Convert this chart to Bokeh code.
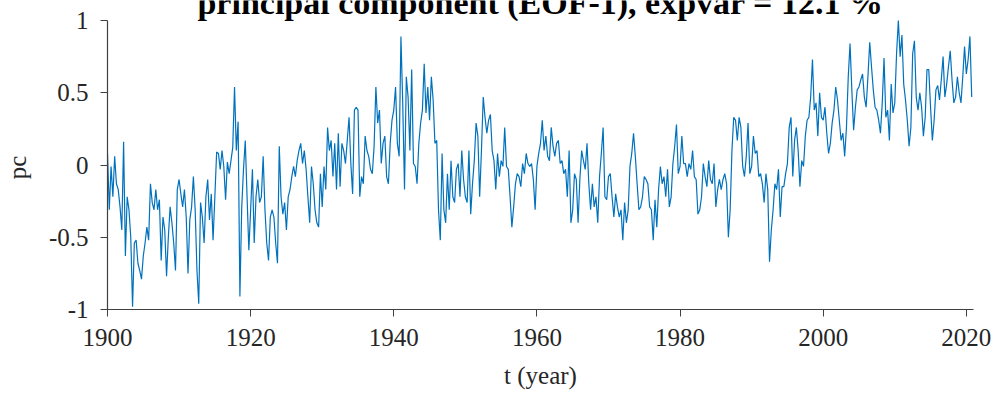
import numpy as np
from bokeh.plotting import figure
from bokeh.models import Label, FixedTicker, CustomJSTickFormatter, Range1d, ColumnDataSource
from bokeh.embed import file_html
from bokeh.resources import INLINE

# Leading principal component, quarterly samples
pc = [
    # 1900-1914
    0.08, -0.31, -0.01, -0.22,
    0.06, -0.13, -0.17, -0.29,
    -0.45, 0.16, -0.63, -0.22,
    -0.31, -0.50, -0.98, -0.54,
    -0.52, -0.68, -0.73, -0.79,
    -0.63, -0.54, -0.43, -0.52,
    -0.13, -0.26, -0.31, -0.17,
    -0.31, -0.24, -0.66, -0.36,
    -0.45, -0.77, -0.50, -0.29,
    -0.40, -0.54, -0.73, -0.17,
    -0.10, -0.20, -0.29, -0.17,
    -0.36, -0.75, -0.38, -0.29,
    -0.08, -0.31, -0.73, -0.96,
    -0.26, -0.36, -0.54, -0.22,
    -0.10, -0.38, -0.20, -0.52,
    # 1915-1929
    -0.22, 0.09, 0.08, -0.03,
    0.10, -0.01, -0.24, 0.02,
    -0.06, 0.03, 0.12, 0.54,
    0.10, 0.30, -0.91, -0.30,
    -0.03, 0.17, -0.22, -0.59,
    -0.31, -0.03, -0.54, -0.22,
    -0.10, -0.26, -0.22, 0.06,
    -0.31, -0.54, -0.66, -0.36,
    -0.31, -0.36, -0.54, -0.68,
    0.13, -0.22, -0.34, -0.26,
    -0.45, -0.22, -0.17, -0.08,
    -0.01, -0.08, 0.03, 0.10,
    0.15, 0.01, 0.10, -0.03,
    -0.22, -0.40, -0.01, -0.13,
    -0.31, -0.40, -0.43, -0.06,
    # 1930-1944
    -0.29, -0.01, -0.17, 0.26,
    0.10, 0.17, -0.08, 0.15,
    -0.17, 0.22, -0.15, 0.15,
    0.10, 0.01, 0.17, 0.33,
    0.01, -0.20, 0.38, 0.40,
    0.38, -0.22, -0.08, -0.13,
    0.20, 0.10, 0.06, -0.03,
    -0.06, 0.13, 0.54, 0.29,
    0.38, 0.01, 0.15, 0.20,
    -0.08, -0.13, 0.15, 0.31,
    0.38, 0.54, 0.15, 0.06,
    0.89, 0.43, -0.17, 0.61,
    0.47, 0.10, 0.66, 0.01,
    -0.01, -0.13, 0.15, 0.29,
    0.38, 0.70, 0.36, 0.54,
    # 1945-1959
    0.31, 0.61, 0.45, 0.15,
    0.17, -0.31, -0.52, 0.08,
    -0.31, -0.40, -0.06, -0.31,
    0.03, -0.22, -0.26, -0.03,
    0.01, -0.22, 0.10, -0.10,
    -0.22, -0.26, 0.10, -0.34,
    -0.13, 0.03, 0.29, 0.20,
    -0.22, 0.10, 0.47, 0.33,
    0.22, 0.31, 0.35, 0.10,
    0.03, -0.17, 0.08, -0.08,
    0.03, -0.01, 0.26, -0.01,
    -0.03, -0.22, -0.43, -0.29,
    -0.13, -0.06, -0.08, -0.15,
    0.01, -0.06, 0.08, 0.01,
    -0.01, 0.01, -0.10, -0.31,
    # 1960-1974
    -0.01, 0.08, 0.15, 0.31,
    0.10, 0.20, 0.06, 0.03,
    0.26, 0.13, 0.06, 0.15,
    0.17, 0.01, 0.03, -0.06,
    -0.03, -0.22, 0.10, -0.40,
    -0.31, -0.06, -0.10, -0.40,
    -0.10, 0.10, 0.03, -0.03,
    0.15, -0.13, -0.31, -0.13,
    -0.29, -0.22, -0.40, -0.08,
    0.08, 0.26, -0.22, -0.24,
    -0.08, -0.06, -0.22, -0.36,
    -0.20, -0.29, -0.36, -0.31,
    -0.52, -0.26, -0.40, -0.31,
    -0.01, 0.08, 0.22, 0.06,
    -0.13, -0.31, -0.29, -0.22,
    # 1975-1990
    -0.08, -0.10, -0.13, -0.29,
    -0.31, -0.52, -0.24, -0.43,
    -0.17, -0.01, -0.13, -0.08,
    -0.22, -0.03, -0.29, -0.22,
    0.01, 0.13, 0.28, -0.06,
    -0.01, 0.20, 0.01, 0.01,
    -0.08, 0.01, -0.03, 0.10,
    -0.08, -0.10, -0.34, -0.31,
    -0.22, 0.01, -0.08, -0.15,
    0.03, -0.10, -0.13, 0.01,
    -0.29, -0.17, -0.10, -0.17,
    -0.10, -0.06, -0.13, -0.50,
    -0.31, 0.10, 0.33, 0.31,
    0.17, 0.33, 0.26, -0.01,
    -0.08, 0.06, 0.29, -0.06,
    -0.01, 0.20, 0.08, 0.10,
    # 1991-2005
    -0.08, -0.06, -0.13, -0.26,
    -0.06, -0.17, -0.67, -0.45,
    -0.31, -0.13, -0.17, -0.03,
    -0.36, -0.15, -0.15, -0.06,
    0.01, 0.26, 0.33, -0.08,
    0.17, 0.26, 0.10, -0.15,
    0.03, -0.01, 0.20, 0.31,
    0.33, 0.47, 0.73, 0.38,
    0.43, 0.20, 0.50, 0.33,
    0.31, 0.40, 0.22, 0.08,
    0.15, 0.29, 0.38, 0.54,
    0.45, 0.31, 0.17, 0.22,
    0.06, 0.26, 0.61, 0.84,
    0.52, 0.24, 0.40, 0.52,
    0.54, 0.59, 0.63, 0.47,
    # 2006-2020
    0.40, 0.61, 0.85, 0.68,
    0.52, 0.40, 0.38, 0.31,
    0.22, 0.43, 0.74, 0.33,
    0.38, 0.17, 0.56, 0.36,
    0.43, 0.77, 1.00, 0.75,
    0.90, 0.56, 0.45, 0.31,
    0.13, 0.26, 0.77, 0.86,
    0.47, 0.38, 0.50, 0.40,
    0.20, 0.33, 0.66, 0.66,
    0.40, 0.17, 0.31, 0.52,
    0.55, 0.45, 0.59, 0.75,
    0.47, 0.56, 0.68, 0.79,
    0.59, 0.43, 0.47, 0.61,
    0.50, 0.43, 0.61, 0.82,
    0.63, 0.73, 0.89, 0.47,
]
start_year = 1900
samples_per_year = 4
t = [start_year + i / samples_per_year for i in range(len(pc))]

x_ticks = [1900, 1920, 1940, 1960, 1980, 2000, 2020]
y_ticks = [-1, -0.5, 0, 0.5, 1]
title_text = "principal component (EOF-1), expvar = 12.1 %"
xlabel_text = "t (year)"
ylabel_text = "pc"

FONT = "Liberation Serif"
TXT = "#262626"

# the frame reaches the top edge so the (cut) title can sit inside it;
# the y axis itself is bounded to [-1, 1]
PX_PER_UNIT = 289 / 2.0
y_top = 1 + 20 / PX_PER_UNIT

p = figure(width=995, height=396, output_backend="svg", toolbar_location=None,
           x_range=Range1d(1900, 2021), y_range=Range1d(-1, y_top),
           min_border_left=103, min_border_right=22,
           min_border_top=0, min_border_bottom=87)
p.outline_line_color = None
p.xgrid.visible = False
p.ygrid.visible = False
p.background_fill_color = "white"
p.border_fill_color = "white"

src = ColumnDataSource(dict(t=t, pc=pc))
p.line("t", "pc", source=src, line_color="#0072BD", line_width=1.2)

for ax in (p.xaxis[0], p.yaxis[0]):
    ax.axis_line_color = "#404040"
    ax.axis_line_width = 1.2
    ax.major_tick_line_color = "#404040"
    ax.major_tick_line_width = 1
    ax.major_tick_in = 0
    ax.major_tick_out = 7
    ax.minor_tick_line_color = None
    ax.major_label_text_font = FONT
    ax.major_label_text_font_size = "25px"
    ax.major_label_text_color = TXT
    ax.major_label_standoff = 12
    ax.axis_label_text_font = FONT
    ax.axis_label_text_font_size = "25px"
    ax.axis_label_text_font_style = "normal"
    ax.axis_label_text_color = TXT

p.xaxis.ticker = FixedTicker(ticks=x_ticks)
p.yaxis.ticker = FixedTicker(ticks=y_ticks)
p.yaxis.bounds = (-1, 1)
p.yaxis.formatter = CustomJSTickFormatter(code="return tick.toString();")
p.xaxis.formatter = CustomJSTickFormatter(code="return tick.toFixed(0);")
p.xaxis.axis_label = xlabel_text
p.xaxis.axis_label_standoff = 13
# trailing no-break spaces keep "pc" centred on the [-1, 1] part of the axis
p.yaxis.axis_label = ylabel_text + "\u00a0\u00a0\u00a0\u00a0"
p.yaxis.axis_label_standoff = 15

# title (partly cut by the top edge, as in the reference)
p.add_layout(Label(x=1960.5, y=1.125, text=title_text, text_align="center",
                   text_baseline="alphabetic", text_font=FONT, text_font_style="bold",
                   text_font_size="34px", text_color="#000000"))

open("out.html", "w").write(file_html(p, INLINE))
